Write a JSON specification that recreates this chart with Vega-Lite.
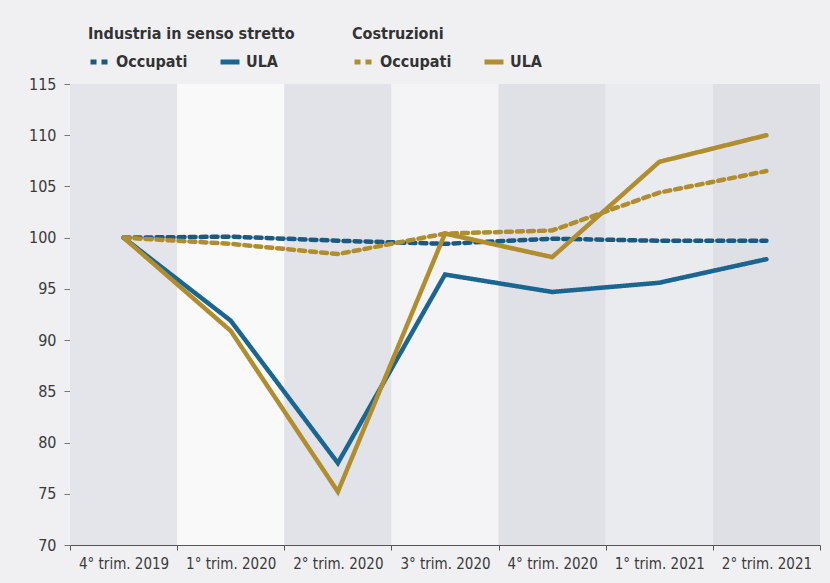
{
  "$schema": "https://vega.github.io/schema/vega-lite/v6.json",
  "width": 750,
  "height": 461,
  "autosize": "none",
  "padding": {"left": 70, "top": 84, "right": 10, "bottom": 38},
  "background": "#f0f0f3",
  "config": {
    "view": {"stroke": null},
    "font": "DejaVu Sans Condensed, Roboto, sans-serif",
    "axis": {"labelFont": "DejaVu Sans Condensed, Roboto, sans-serif", "labelFontSize": 15, "labelColor": "#3a3a3a", "grid": false},
    "legend": {"labelFont": "DejaVu Sans Condensed, Roboto, sans-serif", "titleFont": "DejaVu Sans Condensed, Roboto, sans-serif", "titleLimit": 400, "labelLimit": 300}
  },
  "datasets": {
    "bands": [
      {"q": "4° trim. 2019", "shade": "#e4e5eb"},
      {"q": "1° trim. 2020", "shade": "#f9f9fa"},
      {"q": "2° trim. 2020", "shade": "#e2e3e9"},
      {"q": "3° trim. 2020", "shade": "#f4f4f6"},
      {"q": "4° trim. 2020", "shade": "#e0e1e7"},
      {"q": "1° trim. 2021", "shade": "#eaebef"},
      {"q": "2° trim. 2021", "shade": "#dfe0e6"}
    ],
    "lines": [
      {"q": "4° trim. 2019", "settore": "Industria", "misura": "Occupati", "v": 100.0},
      {"q": "1° trim. 2020", "settore": "Industria", "misura": "Occupati", "v": 100.1},
      {"q": "2° trim. 2020", "settore": "Industria", "misura": "Occupati", "v": 99.7},
      {"q": "3° trim. 2020", "settore": "Industria", "misura": "Occupati", "v": 99.4},
      {"q": "4° trim. 2020", "settore": "Industria", "misura": "Occupati", "v": 99.9},
      {"q": "1° trim. 2021", "settore": "Industria", "misura": "Occupati", "v": 99.7},
      {"q": "2° trim. 2021", "settore": "Industria", "misura": "Occupati", "v": 99.7},
      {"q": "4° trim. 2019", "settore": "Industria", "misura": "ULA", "v": 100.0},
      {"q": "1° trim. 2020", "settore": "Industria", "misura": "ULA", "v": 91.9},
      {"q": "2° trim. 2020", "settore": "Industria", "misura": "ULA", "v": 78.0},
      {"q": "3° trim. 2020", "settore": "Industria", "misura": "ULA", "v": 96.4},
      {"q": "4° trim. 2020", "settore": "Industria", "misura": "ULA", "v": 94.7},
      {"q": "1° trim. 2021", "settore": "Industria", "misura": "ULA", "v": 95.6},
      {"q": "2° trim. 2021", "settore": "Industria", "misura": "ULA", "v": 97.9},
      {"q": "4° trim. 2019", "settore": "Costruzioni", "misura": "Occupati", "v": 100.0},
      {"q": "1° trim. 2020", "settore": "Costruzioni", "misura": "Occupati", "v": 99.4},
      {"q": "2° trim. 2020", "settore": "Costruzioni", "misura": "Occupati", "v": 98.4},
      {"q": "3° trim. 2020", "settore": "Costruzioni", "misura": "Occupati", "v": 100.4},
      {"q": "4° trim. 2020", "settore": "Costruzioni", "misura": "Occupati", "v": 100.7},
      {"q": "1° trim. 2021", "settore": "Costruzioni", "misura": "Occupati", "v": 104.4},
      {"q": "2° trim. 2021", "settore": "Costruzioni", "misura": "Occupati", "v": 106.5},
      {"q": "4° trim. 2019", "settore": "Costruzioni", "misura": "ULA", "v": 100.0},
      {"q": "1° trim. 2020", "settore": "Costruzioni", "misura": "ULA", "v": 90.9},
      {"q": "2° trim. 2020", "settore": "Costruzioni", "misura": "ULA", "v": 75.2},
      {"q": "3° trim. 2020", "settore": "Costruzioni", "misura": "ULA", "v": 100.4},
      {"q": "4° trim. 2020", "settore": "Costruzioni", "misura": "ULA", "v": 98.1},
      {"q": "1° trim. 2021", "settore": "Costruzioni", "misura": "ULA", "v": 107.4},
      {"q": "2° trim. 2021", "settore": "Costruzioni", "misura": "ULA", "v": 110.0}
    ]
  },
  "data": {"name": "lines"},
  "encoding": {
    "x": {
      "field": "q", "type": "nominal", "sort": null,
      "scale": {"type": "band", "paddingInner": 0, "paddingOuter": 0},
      "axis": {"title": null, "labelAngle": 0, "tickBand": "extent", "domainColor": "#555", "domainWidth": 1.2, "tickColor": "#555", "tickSize": 5, "labelPadding": 6}
    },
    "y": {
      "field": "v", "type": "quantitative",
      "scale": {"domain": [70, 115], "nice": false, "zero": false},
      "axis": {"title": null, "values": [70, 75, 80, 85, 90, 95, 100, 105, 110, 115], "domain": false, "tickColor": "#777", "tickSize": 6, "tickOffset": 0, "labelPadding": 8, "labelFontSize": 16}
    }
  },
  "layer": [
    {
      "data": {"name": "bands"},
      "mark": {"type": "rect"},
      "encoding": {
        "x": {"field": "q", "type": "nominal", "sort": null},
        "y": null,
        "color": {"field": "shade", "type": "nominal", "scale": null}
      }
    },
    {
      "transform": [{"filter": "datum.settore === 'Industria'"}],
      "mark": {"type": "line", "strokeWidth": 4.5, "strokeCap": "round", "strokeJoin": "miter"},
      "encoding": {
        "color": {
          "field": "misura", "type": "nominal",
          "scale": {"domain": ["Occupati", "ULA"], "range": ["#1b5980", "#1a6690"]},
          "legend": {"title": "Industria in senso stretto", "orient": "none", "legendX": 18, "legendY": -58, "direction": "horizontal", "titleFontSize": 16, "titleFontWeight": "bold", "titleColor": "#333", "labelFontSize": 16, "labelFontWeight": "bold", "labelColor": "#333", "symbolType": "stroke", "symbolSize": 360, "symbolStrokeWidth": 5, "columnPadding": 22, "titlePadding": 8}
        },
        "strokeDash": {
          "field": "misura", "type": "nominal",
          "scale": {"domain": ["Occupati", "ULA"], "range": [[6, 5], [1, 0]]},
          "legend": {"title": "Industria in senso stretto"}
        }
      }
    },
    {
      "transform": [{"filter": "datum.settore === 'Costruzioni'"}],
      "mark": {"type": "line", "strokeWidth": 4.5, "strokeCap": "round", "strokeJoin": "miter"},
      "encoding": {
        "color": {
          "field": "misura", "type": "nominal",
          "scale": {"domain": ["Occupati", "ULA"], "range": ["#b08d2e", "#b08d2e"]},
          "legend": {"title": "Costruzioni", "orient": "none", "legendX": 282, "legendY": -58, "direction": "horizontal", "titleFontSize": 16, "titleFontWeight": "bold", "titleColor": "#333", "labelFontSize": 16, "labelFontWeight": "bold", "labelColor": "#333", "symbolType": "stroke", "symbolSize": 360, "symbolStrokeWidth": 5, "columnPadding": 22, "titlePadding": 8}
        },
        "strokeDash": {
          "field": "misura", "type": "nominal",
          "scale": {"domain": ["Occupati", "ULA"], "range": [[6, 5], [1, 0]]},
          "legend": {"title": "Costruzioni"}
        }
      }
    }
  ],
  "resolve": {"scale": {"color": "independent", "strokeDash": "independent"}, "legend": {"color": "independent", "strokeDash": "independent"}}
}
